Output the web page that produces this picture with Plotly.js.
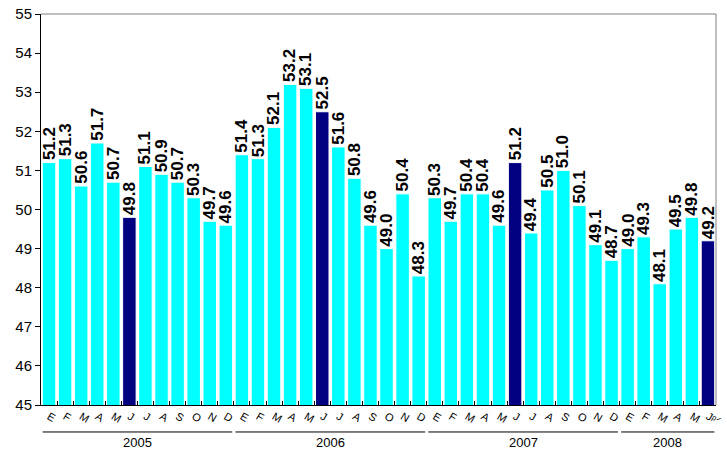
<!DOCTYPE html>
<html><head><meta charset="utf-8">
<script src="https://cdn.plot.ly/plotly-3.0.1.min.js"></script>
<style>body{margin:0;background:#fff}#c{width:727px;height:451px}</style>
</head><body><div id="c"></div>
<script>
const months = ["E","F","M","A","M","J","J","A","S","O","N","D",
  "E","F","M","A","M","J","J","A","S","O","N","D",
  "E","F","M","A","M","J","J","A","S","O","N","D",
  "E","F","M","A","M","J\u1D56\u141F"];
const years = ["2005","2006","2007","2008"];
const monthsPerYear = [12,12,12,6];
const values = [51.2,51.3,50.6,51.7,50.7,49.8,51.1,50.9,50.7,50.3,49.7,49.6,
  51.4,51.3,52.1,53.2,53.1,52.5,51.6,50.8,49.6,49.0,50.4,48.3,
  50.3,49.7,50.4,50.4,49.6,51.2,49.4,50.5,51.0,50.1,49.1,48.7,
  49.0,49.3,48.1,49.5,49.8,49.2];
const highlight = [5,17,29,41];

const idx = values.map((v,i)=>i);
const colors = idx.map(i => highlight.includes(i) ? "#000080" : "#00FFFF");

const shapes = [], annotations = [];
values.forEach((v,i)=>{
  annotations.push({xref:"x", yref:"y", x:i, y:v, yanchor:"bottom", xanchor:"center",
    showarrow:false, textangle:-90, text:"<b>" + v.toFixed(1) + "</b>", borderpad:0, yshift:1,
    font:{family:"Liberation Sans, Arial", size:17, color:"#000"}});
});
let start = 0;
years.forEach((y,k)=>{
  const n = monthsPerYear[k];
  shapes.push({type:"line", xref:"x", yref:"paper", x0:start - 0.4, x1:start + n - 0.6, y0:-0.069, y1:-0.069,
    line:{color:"#000", width:1}});
  annotations.push({xref:"x", yref:"paper", x:(start + start + n - 1)/2, y:-0.073,
    yanchor:"top", showarrow:false, text:y, borderpad:0,
    font:{family:"Liberation Sans, Arial", size:13, color:"#000"}});
  start += n;
});

function fixRotation(){
  const groups = document.querySelectorAll("#c .annotation");
  groups.forEach((a, k)=>{
    const di = a.getAttribute("data-index");
    const n = di === null ? k : +di;
    if (n >= values.length) return;
    const g = a.querySelector(".annotation-text-g");
    if (!g) return;
    const tr = g.getAttribute("transform") || "";
    if (/rotate\(\s*(-90|270)/.test(tr)) return;
    const bb = g.getBBox();
    if (!bb || !bb.width) return;
    const cx = bb.x + bb.width/2, cy = bb.y + bb.height/2;
    const dy = (bb.y + bb.height - bb.width/2) - cy;
    g.setAttribute("transform", tr + " translate(0," + dy + ") rotate(-90," + cx + "," + cy + ")");
  });
}

const gd = document.getElementById("c");
Plotly.newPlot(gd, [{
  type:"bar", x:idx, y:values,
  marker:{color:colors, line:{color:"#fff", width:1}}
}], {
  width:727, height:451,
  margin:{l:41, r:11, t:14, b:46, autoexpand:false},
  bargap:0.16,
  xaxis:{type:"category", range:[-0.5,41.5], tickmode:"array", tickvals:idx, ticktext:months,
    tickson:"boundaries", ticks:"inside", ticklen:4, tickcolor:"#000",
    showgrid:false, zeroline:false, showline:true, linecolor:"#000", linewidth:1,
    tickfont:{family:"Liberation Sans, Arial", size:11, color:"#000"}},
  yaxis:{range:[45,55], dtick:1, ticks:"outside", ticklen:5, tickcolor:"#000",
    showgrid:false, zeroline:false, showline:true, linecolor:"#000", linewidth:1,
    tickfont:{family:"Liberation Sans, Arial", size:15, color:"#000"}},
  shapes: shapes.concat([
    {type:"line", xref:"paper", yref:"paper", x0:0, x1:1, y0:1, y1:1, line:{color:"#808080", width:1}},
    {type:"line", xref:"paper", yref:"paper", x0:1, x1:1, y0:0, y1:1, line:{color:"#808080", width:1}}
  ]),
  annotations: annotations
}, {displayModeBar:false}).then(()=>{
  fixRotation();
  gd.on("plotly_afterplot", fixRotation);
  setTimeout(fixRotation, 200);
});
</script></body></html>
